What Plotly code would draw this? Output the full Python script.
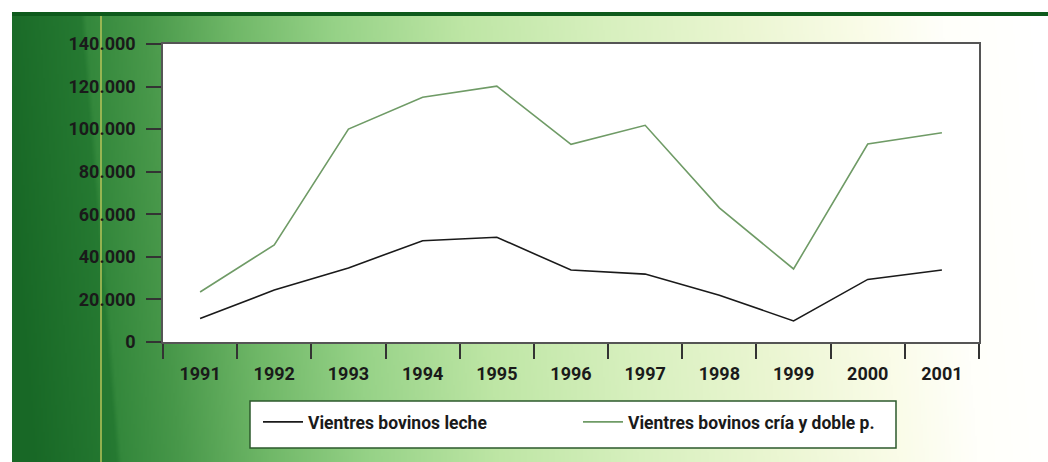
import base64
import struct
import zlib

import numpy as np
import plotly.graph_objects as go

# ---- data -------------------------------------------------------------
years = ["1991", "1992", "1993", "1994", "1995", "1996",
         "1997", "1998", "1999", "2000", "2001"]
leche = [11000, 24400, 34800, 47600, 49200, 33800,
         31900, 22000, 9900, 29400, 33800]
cria_doble = [23500, 45600, 100000, 115000, 120200, 92900,
              101800, 63000, 34300, 93000, 98300]
y_ticks = [0, 20000, 40000, 60000, 80000, 100000, 120000, 140000]

series_names = ["Vientres bovinos leche", "Vientres bovinos cría y doble p."]
series_colors = ["#1a1a1a", "#6f9b66"]

# ---- geometry (px) ----------------------------------------------------
W, H = 1048, 462
PL, PR, PT, PB = 163, 979, 44, 342        # plot area edges
PW, PH = PR - PL, PB - PT


def px_x(x):
    return (x - PL) / PW


def px_y(y):
    return (PB - y) / PH


# ---- green gradient backdrop as an inline PNG -------------------------
def png_uri(rgb):
    h, w, _ = rgb.shape
    raw = b"".join(b"\x00" + rgb[r].tobytes() for r in range(h))

    def chunk(tag, data):
        c = struct.pack(">I", len(data)) + tag + data
        return c + struct.pack(">I", zlib.crc32(tag + data) & 0xFFFFFFFF)

    png = (b"\x89PNG\r\n\x1a\n"
           + chunk(b"IHDR", struct.pack(">IIBBBBB", w, h, 8, 2, 0, 0, 0))
           + chunk(b"IDAT", zlib.compress(raw, 9))
           + chunk(b"IEND", b""))
    return "data:image/png;base64," + base64.b64encode(png).decode()


stops = np.array([
    (12, 24, 104, 38),
    (98, 38, 122, 50),
    (103, 52, 136, 60),
    (160, 72, 152, 74),
    (250, 112, 184, 104),
    (350, 150, 210, 135),
    (480, 190, 230, 165),
    (620, 215, 240, 190),
    (760, 235, 246, 210),
    (880, 250, 252, 232),
    (960, 255, 255, 250),
    (1048, 255, 255, 255),
], dtype=float)

GW, GH = 518, 112
gx = np.linspace(12, 1048, GW)
gy = np.linspace(16, 462, GH)
XX, YY = np.meshgrid(gx, gy)
SS = XX - 0.08 * (YY - 240)             # slight diagonal tilt
grad = np.stack([np.interp(SS, stops[:, 0], stops[:, c]) for c in (1, 2, 3)], axis=-1)
grad = np.clip(grad, 0, 255).astype(np.uint8)
bg_uri = png_uri(grad)

FONT = "Roboto, Noto Sans, sans-serif"
BASE_FONT = dict(family=FONT, size=17, color="#1a1a1a", weight="bold")

fig = go.Figure()
for name, vals, col in zip(series_names, [leche, cria_doble], series_colors):
    fig.add_trace(go.Scatter(
        x=years, y=vals, name=name, mode="lines",
        line=dict(color=col, width=1.6),
    ))

fig.update_layout(
    width=W, height=H,
    margin=dict(l=PL, r=W - PR, t=PT, b=H - PB, autoexpand=False),
    paper_bgcolor="white",
    plot_bgcolor="white",
    separators=",.",
    font=BASE_FONT,
    showlegend=True,
    legend=dict(
        orientation="h",
        x=px_x(258), xanchor="left",
        y=px_y(404), yanchor="top",
        bgcolor="rgba(0,0,0,0)",
        borderwidth=0,
        entrywidth=265, entrywidthmode="pixels",
        font=dict(family=FONT, size=17.5, color="#1a1a1a", weight="bold"),
        itemwidth=40,
    ),
    images=[dict(
        source=bg_uri, xref="paper", yref="paper",
        x=px_x(12), y=px_y(16),
        sizex=(W - 12) / PW, sizey=(H - 16) / PH,
        xanchor="left", yanchor="top",
        sizing="stretch", layer="below",
    )],
    shapes=[
        # white panel behind the traces
        dict(type="rect", xref="paper", yref="paper",
             x0=0, x1=1, y0=0, y1=1,
             fillcolor="white", line=dict(width=0), layer="below"),
        # dark rule along the top
        dict(type="line", xref="paper", yref="paper",
             x0=px_x(12), x1=px_x(W), y0=px_y(14), y1=px_y(14),
             line=dict(color="#0e5a1c", width=4), layer="below"),
        # thin yellow-green vertical rule
        dict(type="line", xref="paper", yref="paper",
             x0=px_x(101), x1=px_x(101), y0=px_y(16), y1=px_y(H),
             line=dict(color="#b8c45a", width=1.5), layer="below"),
        # legend box
        dict(type="rect", xref="paper", yref="paper",
             x0=px_x(250), x1=px_x(896), y0=px_y(448), y1=px_y(401),
             fillcolor="white", line=dict(color="#2d5a2d", width=1.5),
             layer="below"),
    ],
)

fig.update_xaxes(
    type="category",
    range=[-0.5, len(years) - 0.5],
    tickson="boundaries",
    ticks="outside", ticklen=15, tickwidth=1.5, tickcolor="#333333",
    showline=True, linecolor="#555555", linewidth=1.5, mirror=True,
    showgrid=False, zeroline=False,
    tickfont=dict(size=18),
    ticklabelstandoff=15,
)
fig.update_yaxes(
    range=[0, 140000],
    tickvals=y_ticks,
    tickformat=",d",
    ticks="outside", ticklen=15, tickwidth=1.5, tickcolor="#333333",
    showline=True, linecolor="#555555", linewidth=1.5, mirror=True,
    showgrid=False, zeroline=False,
    tickfont=dict(size=18),
    ticklabelstandoff=7,
)

fig.write_html("out.html")
